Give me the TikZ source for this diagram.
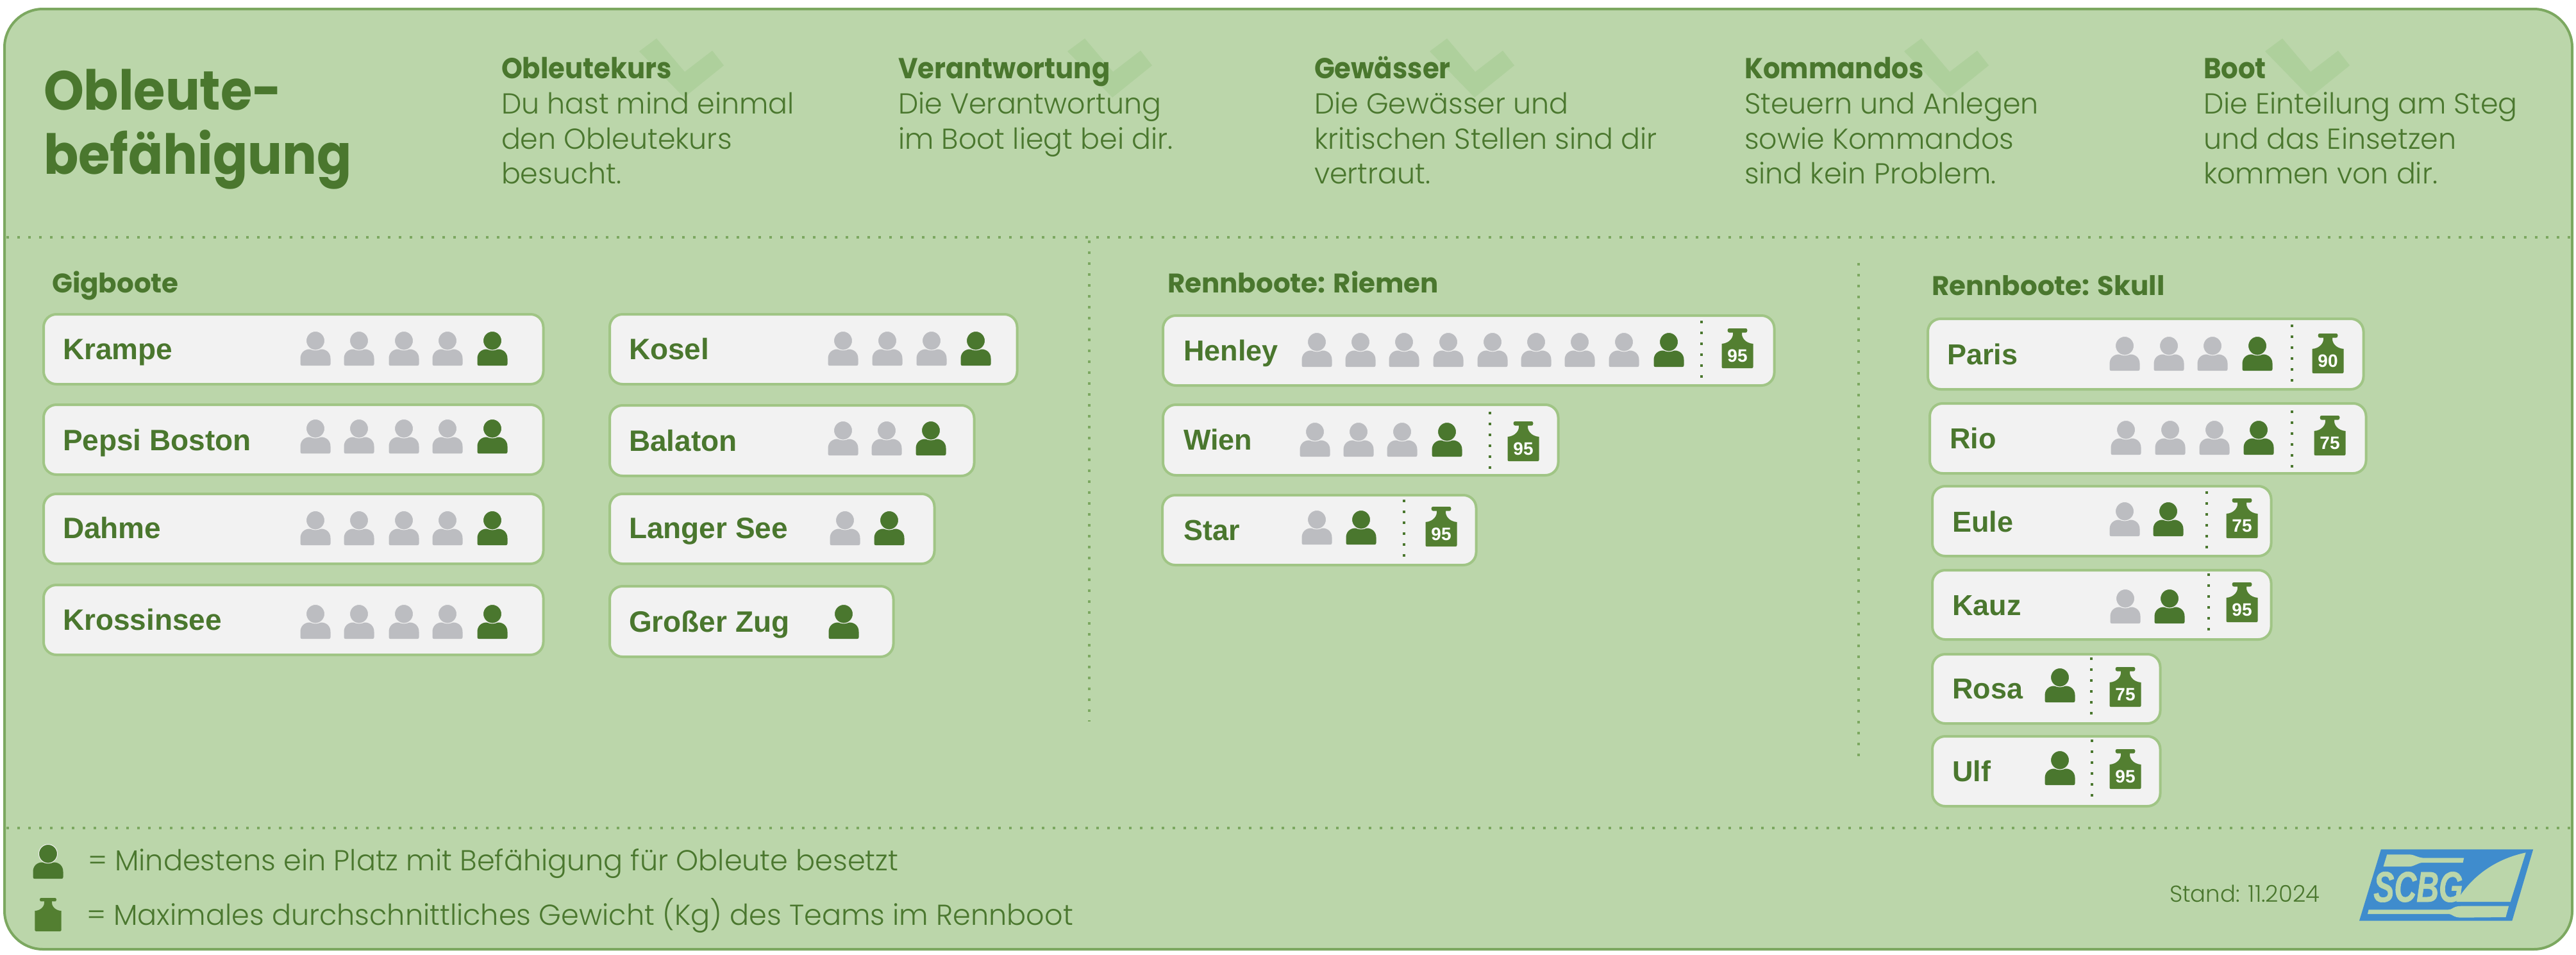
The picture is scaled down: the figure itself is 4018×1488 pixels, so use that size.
\documentclass[tikz,border=0pt]{standalone}
\usepackage{fontspec}
\setmainfont{Liberation Sans}
\newfontfamily\cglight[FakeStretch=0.985]{Poppins Light}
\newfontfamily\cglegend[FakeStretch=0.99]{Poppins Light}
\newfontfamily\cgbold[FakeStretch=0.93]{Poppins Bold}
\newfontfamily\cggroup{Poppins Bold}
\newfontfamily\logofont[FakeStretch=0.72,FakeBold=1]{Liberation Sans}
\definecolor{panelbg}{HTML}{BBD6AA}
\definecolor{panelline}{HTML}{7CA860}
\definecolor{boxline}{HTML}{A0C585}
\definecolor{boxfill}{HTML}{F2F2F2}
\definecolor{darkgreen}{HTML}{4A772E}
\definecolor{weightgreen}{HTML}{537F31}
\definecolor{seat}{HTML}{BCBDC1}
\definecolor{checkgreen}{HTML}{AED09C}
\definecolor{logoblue}{HTML}{3F8CCD}
\newcommand\boatsize{23}
\tikzset{
  x=0.5pt,y=-0.5pt,
  boatbox/.style={draw=boxline,fill=boxfill,line width=2pt,rounded corners=10pt},
  txt/.style={inner sep=0pt,outer sep=0pt,anchor=base west,text=darkgreen},
  boatname/.style={txt,font=\fontsize{\boatsize}{26}\selectfont\bfseries},
  groupname/.style={txt,font=\fontsize{21}{25}\cggroup},
  headline/.style={txt,font=\fontsize{22.5}{27}\cgbold},
  bodyline/.style={txt,font=\fontsize{22.5}{27}\cglight},
  titleline/.style={txt,font=\fontsize{43}{50}\cgbold},
  legendline/.style={txt,font=\fontsize{22.5}{27}\cglegend},
  dotsh/.style={draw=panelline,line width=2pt,dash pattern=on 2pt off 6.5pt},
  dotsb/.style={draw=darkgreen,line width=2pt,dash pattern=on 2pt off 6.5pt},
  checkmark/.style={fill=checkgreen,draw=none},
}
% person: #1 centre x, #2 top y, #3 colour
\newcommand\person[3]{%
  \begin{scope}[shift={(#1,#2)}]
    \fill[#3] (-23.5,50.5) -- (-23.5,42) .. controls (-23.5,33) and (-17,27.5) .. (-9,27.5)
      .. controls (-5,29.5) and (5,29.5) .. (9,27.5)
      .. controls (17,27.5) and (23.5,33) .. (23.5,42) -- (23.5,50.5)
      .. controls (23.5,52.5) and (22.5,53) .. (21,53) -- (-21,53)
      .. controls (-22.5,53) and (-23.5,52.5) .. (-23.5,50.5) -- cycle;
    \draw[fill=#3,draw=boxfill,line width=0.5pt] (0,14.2) ellipse [x radius=14.5,y radius=14.7];
  \end{scope}}
% weight outline
\newcommand\weightshape[3]{%
  \begin{scope}[shift={(#1,#2)}]
    \fill[#3] (-15.5,3) .. controls (-15.5,1) and (-14,0) .. (-13,0) -- (13,0)
      .. controls (14,0) and (15.5,1) .. (15.5,3) .. controls (15.5,5.5) and (14,6.5) .. (13,6.5) -- (7,6.5)
      .. controls (6,14) and (12,23) .. (24.5,24) -- (24.5,60)
      .. controls (24.5,61.5) and (23.5,62) .. (22.5,62) -- (-22.5,62)
      .. controls (-23.5,62) and (-24.5,61.5) .. (-24.5,60) -- (-24.5,24)
      .. controls (-12,23) and (-6,14) .. (-7,6.5) -- (-13,6.5)
      .. controls (-14,6.5) and (-15.5,5.5) .. (-15.5,3) -- cycle;
  \end{scope}}
% weight with number: #1 name, #2 cx, #3 top, #4 number
\newcommand\weight[4]{%
  \weightshape{#2}{#3}{weightgreen}
  \node[inner sep=0pt,anchor=base,text=white,font=\fontsize{14}{16}\selectfont\bfseries] (#1) at (#2,#3+52) {#4};}
% boat: #1 name, #2 x1, #3 y1, #4 x2, #5 y2, #6 text x, #7 baseline, #8 label
\newcommand\boat[8]{%
  \draw[boatbox] (#2,#3+2) rectangle (#4-0.5,#5-2);
  \node[boatname] (#1) at (#6,#7) {#8};}
\newcommand\boatdiv[3]{\draw[dotsb] (#1,#2) -- (#1,#3);}
\newcommand\seats[2]{\foreach \sx in {#1} {\person{\sx}{#2}{seat}}}
\newcommand\checkat[1]{%
  \fill[checkmark,shift={(#1,0)}] (1024,60) -- (997,80) -- (1067,152) -- (1129,102) -- (1111,79) -- (1068,112) -- cycle;}
\begin{document}
\begin{tikzpicture}
\useasboundingbox (0,0) rectangle (4018,1488);
\fill[white] (0,0) rectangle (4018,1488);
\draw[fill=panelbg,draw=panelline,line width=2pt,rounded corners=30pt] (7,14) rectangle (4012,1480);
% dividers
\draw[dotsh] (10,370) -- (4010,370);
\draw[dotsh] (10,1291) -- (4010,1291);
\draw[dotsh] (1699,375) -- (1699,1125);
\draw[dotsh] (2899,410) -- (2899,1186);
% checks
\checkat{0}\checkat{668}\checkat{1233}\checkat{1973}\checkat{2536}
% title
\node[titleline] (t1) at (68,171) {Obleute-};
\node[titleline] (t2) at (68,271) {befähigung};
% header columns
\node[headline] (h1) at (782,122) {Obleutekurs};
\node[bodyline] (h1a) at (782,177) {Du hast mind einmal};
\node[bodyline] (h1b) at (782,232) {den Obleutekurs};
\node[bodyline] (h1c) at (782,286) {besucht.};
\node[headline] (h2) at (1401,122) {Verantwortung};
\node[bodyline] (h2a) at (1401,177) {Die Verantwortung};
\node[bodyline] (h2b) at (1401,232) {im Boot liegt bei dir.};
\node[headline] (h3) at (2050,122) {Gewässer};
\node[bodyline] (h3a) at (2050,177) {Die Gewässer und};
\node[bodyline] (h3b) at (2050,232) {kritischen Stellen sind dir};
\node[bodyline] (h3c) at (2050,286) {vertraut.};
\node[headline] (h4) at (2721,122) {Kommandos};
\node[bodyline] (h4a) at (2721,177) {Steuern und Anlegen};
\node[bodyline] (h4b) at (2721,232) {sowie Kommandos};
\node[bodyline] (h4c) at (2721,286) {sind kein Problem.};
\node[headline] (h5) at (3437,122) {Boot};
\node[bodyline] (h5a) at (3437,177) {Die Einteilung am Steg};
\node[bodyline] (h5b) at (3437,232) {und das Einsetzen};
\node[bodyline] (h5c) at (3437,286) {kommen von dir.};
% group names
\node[groupname] (g1) at (81,456) {Gigboote};
\node[groupname] (g2) at (1821,456) {Rennboote: Riemen};
\node[groupname] (g3) at (3013,460) {Rennboote: Skull};
% Gigboote
\boat{krampe}{68}{488}{848}{601}{98}{560}{Krampe}
\seats{492,560,630,698}{517}\person{768}{517}{darkgreen}
\boat{pepsi}{68}{629}{848}{742}{98}{702}{Pepsi Boston}
\seats{492,560,630,698}{654}\person{768}{654}{darkgreen}
\boat{dahme}{68}{768}{848}{881}{98}{839}{Dahme}
\seats{492,560,630,698}{797}\person{768}{797}{darkgreen}
\boat{kross}{68}{910}{848}{1023}{98}{982}{Krossinsee}
\seats{492,560,630,698}{943}\person{768}{943}{darkgreen}
\boat{kosel}{951}{488}{1587}{601}{981}{560}{Kosel}
\seats{1315,1384,1453}{517}\person{1522}{517}{darkgreen}
\boat{balaton}{951}{630}{1520}{744}{981}{703}{Balaton}
\seats{1315,1383}{657}\person{1452}{657}{darkgreen}
\boat{langer}{951}{768}{1458}{881}{981}{839}{Langer See}
\seats{1318}{797}\person{1387}{797}{darkgreen}
\boat{zug}{951}{912}{1394}{1026}{981}{985}{Großer Zug}
\person{1316}{943}{darkgreen}
% Riemen
\renewcommand\boatsize{22.5}
\boat{henley}{1814}{490}{2768}{603}{1846}{562}{Henley}
\seats{2054,2122,2190,2259,2328,2396,2464,2533}{519}\person{2603}{519}{darkgreen}
\boatdiv{2654}{500}{592}\weight{w1}{2710}{512}{95}
\boat{wien}{1814}{629}{2431}{743}{1846}{701}{Wien}
\seats{2051,2119,2187}{659}\person{2257}{659}{darkgreen}
\boatdiv{2324}{642}{734}\weight{w2}{2376}{657}{95}
\boat{star}{1813}{770}{2303}{883}{1846}{842}{Star}
\seats{2054}{796}\person{2123}{796}{darkgreen}
\boatdiv{2190}{779}{871}\weight{w3}{2248}{790}{95}
% Skull
\boat{paris}{3007}{495}{3687}{609}{3037}{568}{Paris}
\seats{3314,3383,3451}{525}\person{3521}{525}{darkgreen}
\boatdiv{3575}{506}{597}\weight{w4}{3631}{520}{90}
\boat{rio}{3010}{627}{3691}{740}{3041}{699}{Rio}
\seats{3316,3385,3454}{656}\person{3523}{656}{darkgreen}
\boatdiv{3575}{640}{731}\weight{w5}{3634}{648}{75}
\boat{eule}{3014}{756}{3543}{869}{3045}{829}{Eule}
\seats{3314}{783}\person{3382}{783}{darkgreen}
\boatdiv{3442}{766}{858}\weight{w6}{3497}{777}{75}
\boat{kauz}{3014}{887}{3543}{999}{3045}{959}{Kauz}
\seats{3315}{919}\person{3384}{919}{darkgreen}
\boatdiv{3445}{894}{986}\weight{w7}{3497}{908}{95}
\boat{rosa}{3014}{1018}{3370}{1130}{3045}{1089}{Rosa}
\person{3213}{1042}{darkgreen}
\boatdiv{3262}{1025}{1117}\weight{w8}{3315}{1040}{75}
\boat{ulf}{3014}{1146}{3370}{1259}{3045}{1218}{Ulf}
\person{3213}{1171}{darkgreen}
\boatdiv{3263}{1153}{1245}\weight{w9}{3315}{1168}{95}
% legend
\person{75}{1317}{darkgreen}
\begin{scope}[shift={(75,1400)},x=0.42pt,y=-0.42pt]
  \weightshape{0}{0}{weightgreen}
\end{scope}
\node[legendline] (l1) at (137,1357) {= Mindestens ein Platz mit Befähigung für Obleute besetzt};
\node[legendline] (l2) at (135,1442) {= Maximales durchschnittliches Gewicht (Kg) des Teams im Rennboot};
\node[txt,font=\fontsize{18}{21}\cglight] (stand) at (3384,1406) {Stand: 11.2024};
% logo
\begin{scope}[shift={(3200,1260)},x=0.26082pt,y=-0.16667pt]
  \fill[logoblue] (985,193) -- (1440,193) -- (1377,527) -- (920,527) -- cycle;
  \fill[panelbg] (1003,217) -- (1070,217) .. controls (1085,217) and (1095,233) .. (1115,233) -- (1233,233) -- (1230,255) -- (1110,255)
     .. controls (1095,255) and (1085,273) .. (1070,273) -- (992,273) -- cycle;
  \fill[panelbg] (1418,208) .. controls (1320,240) and (1250,330) .. (1210,438) -- (1372,438) -- cycle;
  \fill[panelbg] (948,475) -- (1185,475) .. controls (1200,475) and (1200,458) .. (1225,458) -- (1367,458) -- (1358,510) -- (1225,512)
     .. controls (1200,512) and (1200,495) .. (1185,495) -- (945,495) -- cycle;
  \node[inner sep=0pt,anchor=base west,text=panelbg,font=\fontsize{33.5}{36}\logofont\bfseries\itshape] (logo) at (962,438) {SCBG};
\end{scope}
\end{tikzpicture}
\end{document}
